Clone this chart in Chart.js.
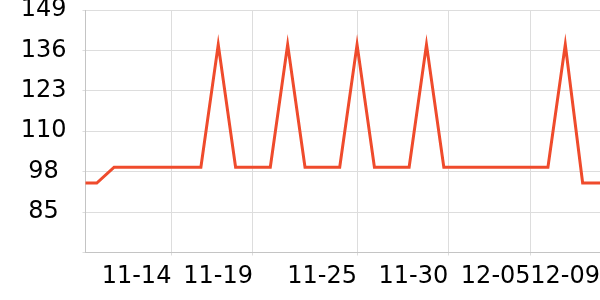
<!DOCTYPE html>
<html lang="en">
<head>
  <meta charset="UTF-8">
  <title>Daily values</title>
  <script src="https://cdn.jsdelivr.net/npm/chart.js"></script>
  <style>
    body { margin: 0; background: #fff; }
    canvas { display: block; }
  </style>
</head>
<body>
  <canvas id="lineChart" width="600" height="300"></canvas>

  <script>
    // one reading per day, 11-09 .. 12-09
    const dates = ['11-09', '11-10', '11-11', '11-12', '11-13', '11-14', '11-15', '11-16',
      '11-17', '11-18', '11-19', '11-20', '11-21', '11-22', '11-23', '11-24', '11-25',
      '11-26', '11-27', '11-28', '11-29', '11-30', '12-01', '12-02', '12-03', '12-04',
      '12-05', '12-06', '12-07', '12-08', '12-09'];
    const values = [94, 94, 99, 99, 99, 99, 99, 99, 138, 99, 99, 99, 138, 99, 99, 99,
      138, 99, 99, 99, 138, 99, 99, 99, 99, 99, 99, 99, 138, 94, 94];

    // where the date ticks sit on the day axis (0 = 11-09)
    const xTickValues = [5.3, 10, 16, 21.25, 26, 30];
    const xTickLabels = ['11-14', '11-19', '11-25', '11-30', '12-05', '12-09'];
    const xStart = 0.35;

    const yTickValues = [71.9, 84.75, 97.6, 110.45, 123.3, 136.15, 149];
    const yTickLabels = ['', '85', '98', '110', '123', '136', '149'];

    const font = { family: 'DejaVu Sans', size: 24 };

    new Chart(document.getElementById('lineChart').getContext('2d'), {
      type: 'line',
      data: {
        datasets: [{
          data: dates.map((d, i) => ({ x: i, y: values[i] })),
          borderColor: '#ef4b2c',
          borderWidth: 3,
          pointRadius: 0,
          tension: 0,
          fill: false
        }]
      },
      options: {
        responsive: false,
        animation: false,
        layout: { padding: { left: 21, bottom: 2.5 } },
        plugins: {
          legend: { display: false },
          tooltip: { enabled: false }
        },
        scales: {
          x: {
            type: 'linear',
            min: xStart,
            max: dates.length - 1,
            afterBuildTicks: s => {
              s.ticks = xTickValues.map(v => ({ value: v }));
            },
            afterFit: s => {
              s.paddingLeft = 0;
              s.paddingRight = 0;
            },
            ticks: {
              autoSkip: false,
              maxRotation: 0,
              align: 'end',
              padding: 0,
              color: '#000',
              font: { ...font, lineHeight: 1.75 },
              callback: (v, i) => xTickLabels[i]
            },
            grid: { color: '#dddddd', tickLength: 3 },
            border: { color: '#c4c4c4' }
          },
          y: {
            min: yTickValues[0],
            max: yTickValues[yTickValues.length - 1],
            afterBuildTicks: s => {
              s.ticks = yTickValues.map(v => ({ value: v }));
            },
            afterFit: s => {
              s.width = 64.5;
              s.paddingTop = 10;
              s.paddingBottom = 0;
            },
            ticks: {
              crossAlign: 'center',
              padding: 16,
              color: '#000',
              font: font,
              callback: (v, i) => yTickLabels[i]
            },
            grid: { color: '#dddddd', tickLength: 3 },
            border: { color: '#c4c4c4' }
          }
        }
      }
    });
  </script>
</body>
</html>
